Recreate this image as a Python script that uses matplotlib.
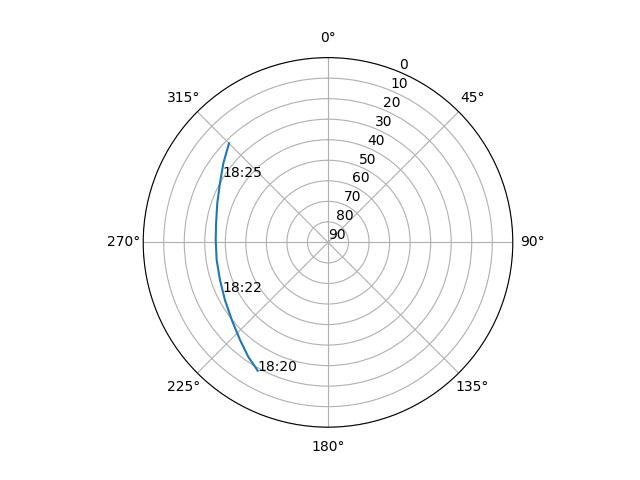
import numpy as np
import matplotlib
matplotlib.use("Agg")
import matplotlib.pyplot as plt

# satellite pass, start (18:20) -> end
azimuth = [208.7, 214.9, 222.0, 231.1, 240.8, 250.8, 261.0, 271.2, 279.7, 289.5, 298.7, 307.1, 315.0]
elevation = [18.75, 22.1, 26.0, 29.8, 32.5, 34.3, 35.1, 35.3, 34.7, 32.8, 30.0, 26.1, 21.8]

label_text = ["18:20", "18:22", "18:25"]
label_az = [208.7, 244.8, 301.8]
label_el = [18.75, 33.4, 29.3]

fig = plt.figure(figsize=(6.4, 4.8), dpi=100)
ax = fig.add_subplot(111, projection="polar")
ax.set_theta_zero_location("N")
ax.set_theta_direction(-1)

ax.plot(np.radians(azimuth), elevation)
for txt, a, e in zip(label_text, label_az, label_el):
    ax.text(np.radians(a), e, txt)

ax.set_yticks(range(0, 91, 10))
ax.set_ylim(90, 0)
ax.grid(True)

fig.savefig("out.png")
